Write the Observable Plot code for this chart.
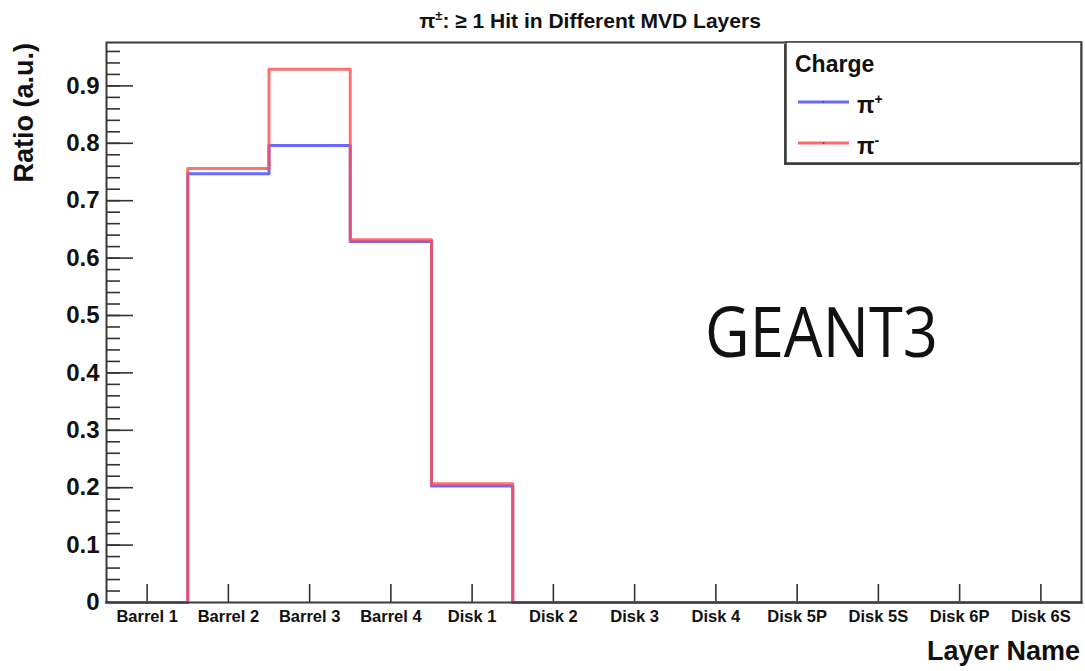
<!DOCTYPE html>
<html>
<head>
<meta charset="utf-8">
<script src="https://cdn.jsdelivr.net/npm/d3@7"></script>
<script src="https://cdn.jsdelivr.net/npm/@observablehq/plot@0.6"></script>
<style>
  html, body { margin: 0; padding: 0; background: #fff; }
  #chart { position: relative; width: 1085px; height: 671px; }
  #chart svg { display: block; }
  g[aria-label="x-axis tick label"] text { font-weight: bold; }
  g[aria-label="y-axis tick label"] text { font-weight: bold; }
</style>
</head>
<body>
<div id="chart"></div>
<script>
// ---- data ----
const categories = ["Barrel 1", "Barrel 2", "Barrel 3", "Barrel 4", "Disk 1", "Disk 2",
                    "Disk 3", "Disk 4", "Disk 5P", "Disk 5S", "Disk 6P", "Disk 6S"];
const piPlus  = [0, 0.747, 0.796, 0.629, 0.203, 0, 0, 0, 0, 0, 0, 0];
const piMinus = [0, 0.756, 0.929, 0.632, 0.207, 0, 0, 0, 0, 0, 0, 0];
const yMajorTicks = [0, 0.1, 0.2, 0.3, 0.4, 0.5, 0.6, 0.7, 0.8, 0.9];
const yMax = 0.9756;
const seriesNames = ["\u03c0+", "\u03c0-"];

// ---- build tables ----
function steps(values) {
  const rows = values.map((v, i) => ({x: i, y: v}));
  rows.push({x: values.length, y: values[values.length - 1]});
  return rows;
}
const plusRows = steps(piPlus);
const minusRows = steps(piMinus);
const binCenters = categories.map((c, i) => i + 0.5);
const yMinorTicks = d3.range(0, 49).map(i => +(i * 0.02).toFixed(2)).filter(v => v <= yMax);

const W = 1085, H = 671, mL = 106, mR = 4, mT = 42, mB = 69;
const plotW = W - mL - mR, plotH = H - mT - mB;
const font = "'Liberation Sans', Arial, Helvetica, sans-serif";

const chart = Plot.plot({
  width: W, height: H,
  marginLeft: mL, marginRight: mR, marginTop: mT, marginBottom: mB,
  style: {fontFamily: font, background: "#fff", overflow: "visible"},
  x: {domain: [0, categories.length], axis: null, label: null},
  y: {domain: [0, yMax], axis: null, label: null},
  marks: [
    Plot.ruleY(yMinorTicks, {stroke: "#333", strokeWidth: 1.6, insetRight: plotW - 14}),
    Plot.ruleY(yMajorTicks, {stroke: "#333", strokeWidth: 1.6, insetRight: plotW - 27}),
    Plot.ruleX(binCenters, {stroke: "#333", strokeWidth: 1.6, insetTop: plotH - 18}),
    Plot.axisX({ticks: binCenters, tickSize: 0, tickPadding: 8, fontSize: 16.5, fontWeight: "bold",
                fill: "#111", label: null, tickFormat: d => categories[Math.floor(d)]}),
    Plot.axisY({ticks: yMajorTicks, tickSize: 0, tickPadding: 7, fontSize: 24, fontWeight: "bold",
                fill: "#111", label: null, tickFormat: d => d === 0 ? "0" : d.toFixed(1)}),
    Plot.lineY(plusRows, {x: "x", y: "y", curve: "step-after", stroke: "#4f4fff", strokeWidth: 3, strokeOpacity: 0.85}),
    Plot.lineY(minusRows, {x: "x", y: "y", curve: "step-after", stroke: "#ff4f4f", strokeWidth: 3, strokeOpacity: 0.8}),
    Plot.frame({stroke: "#3a3a3a", strokeWidth: 2})
  ]
});
document.getElementById("chart").appendChild(chart);

// ---- annotations: title, axis titles, legend, label ----
const svg = d3.select(chart);
const g = svg.append("g").attr("font-family", font).attr("fill", "#111").attr("text-anchor", "start");

const t = g.append("text").attr("x", 590).attr("y", 28).attr("text-anchor", "middle")
  .attr("font-weight", "bold").attr("font-size", 21);
t.append("tspan").text("\u03c0");
t.append("tspan").attr("font-size", 13).attr("dy", -8).text("\u00b1");
t.append("tspan").attr("dy", 8).text(": \u2265 1 Hit in Different MVD Layers");

g.append("text").attr("transform", "translate(33,43) rotate(-90)").attr("text-anchor", "end")
  .attr("font-weight", "bold").attr("font-size", 27).text("Ratio (a.u.)");

g.append("text").attr("x", 1080).attr("y", 660).attr("text-anchor", "end")
  .attr("font-weight", "bold").attr("font-size", 27).text("Layer Name");

g.append("text").attr("x", 705).attr("y", 357).attr("text-anchor", "start").attr("font-family", "'Open Sans', sans-serif")
  .attr("font-size", 70).attr("textLength", 233).attr("lengthAdjust", "spacingAndGlyphs").text("GEANT3");

// legend
const lg = g.append("g").attr("text-anchor", "start");
lg.append("rect").attr("x", 784).attr("y", 44).attr("width", 295).attr("height", 121).attr("fill", "#444");
lg.append("rect").attr("x", 786).attr("y", 42).attr("width", 295).attr("height", 121)
  .attr("fill", "#fff").attr("stroke", "#3a3a3a").attr("stroke-width", 1.5);
lg.append("text").attr("x", 795).attr("y", 72).attr("font-weight", "bold").attr("font-size", 23).text("Charge");
const colors = ["#4f4fff", "#ff4f4f"];
const ly = [102, 143];
seriesNames.forEach((name, i) => {
  lg.append("line").attr("x1", 798).attr("x2", 849).attr("y1", ly[i]).attr("y2", ly[i])
    .attr("stroke", colors[i]).attr("stroke-width", 3).attr("stroke-opacity", 0.85);
  lg.append("circle").attr("cx", 823.5).attr("cy", ly[i]).attr("r", 1).attr("fill", "#555");
  const tx = lg.append("text").attr("x", 857).attr("y", ly[i] + 11).attr("font-weight", "bold").attr("font-size", 23);
  tx.append("tspan").text(name[0]);
  tx.append("tspan").attr("font-size", 14).attr("dy", -9).text(name.slice(1));
});
</script>
</body>
</html>
